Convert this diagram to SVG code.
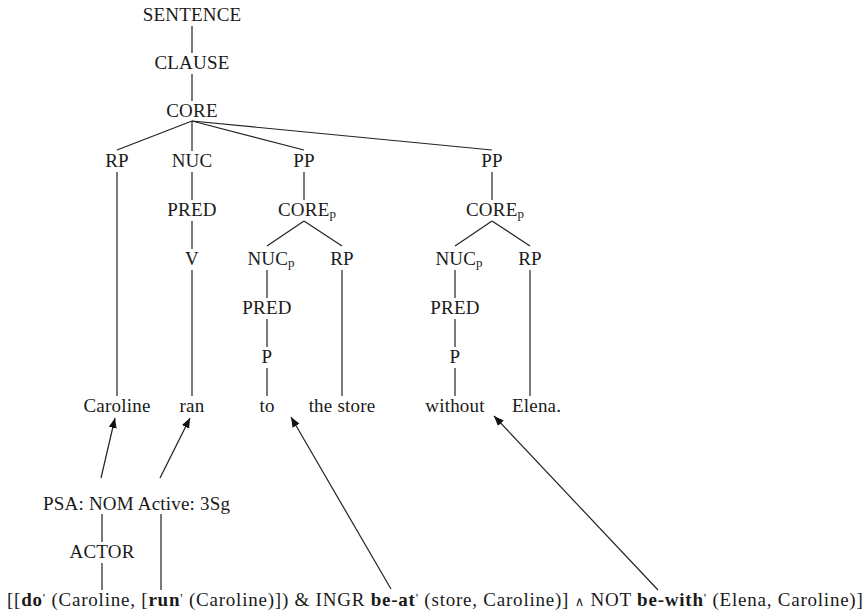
<svg xmlns="http://www.w3.org/2000/svg" width="865" height="615" viewBox="0 0 865 615">
<defs>
<style>
text{font-family:"Liberation Serif","DejaVu Serif",serif;font-size:19px;fill:#1a1a1a;letter-spacing:0.2px}
.m{text-anchor:middle}
.sub{font-size:13px;letter-spacing:0}
.b{font-weight:bold}
.pr{font-size:13px}
#edges line{stroke:#222;stroke-width:1.2}
#arrows line{stroke:#222;stroke-width:1.2;marker-end:url(#ah)}
</style>
<marker id="ah" viewBox="0 0 10 8" refX="10" refY="4" markerWidth="10" markerHeight="8" markerUnits="userSpaceOnUse" orient="auto">
<path d="M0,0 L10,4 L0,8 Z" fill="#111"/>
</marker>
</defs>
<rect width="865" height="615" fill="#fff"/>
<g id="connectors">
<g id="edges">
<line x1="192" y1="26" x2="192" y2="53"/>
<line x1="192" y1="74" x2="192" y2="101"/>
<line x1="192" y1="121" x2="117" y2="150"/>
<line x1="192" y1="121" x2="192" y2="151"/>
<line x1="192" y1="121" x2="304" y2="150"/>
<line x1="192" y1="121" x2="492" y2="150"/>
<line x1="117" y1="172" x2="117" y2="396"/>
<line x1="192" y1="172" x2="192" y2="200"/>
<line x1="192" y1="221" x2="192" y2="249"/>
<line x1="192" y1="270" x2="192" y2="396"/>
<line x1="304" y1="172" x2="304" y2="200"/>
<line x1="304" y1="221" x2="267" y2="246"/>
<line x1="304" y1="221" x2="342" y2="246"/>
<line x1="267" y1="270" x2="267" y2="298"/>
<line x1="267" y1="319" x2="267" y2="347"/>
<line x1="267" y1="368" x2="267" y2="396"/>
<line x1="342" y1="270" x2="342" y2="396"/>
<line x1="492" y1="172" x2="492" y2="200"/>
<line x1="492" y1="221" x2="455" y2="246"/>
<line x1="492" y1="221" x2="530" y2="246"/>
<line x1="455" y1="270" x2="455" y2="298"/>
<line x1="455" y1="319" x2="455" y2="347"/>
<line x1="455" y1="368" x2="455" y2="396"/>
<line x1="530" y1="270" x2="530" y2="396"/>
<line x1="102" y1="514" x2="102" y2="542"/>
<line x1="102" y1="563" x2="102" y2="590"/>
<line x1="161" y1="514" x2="161" y2="590"/>
</g>
<g id="arrows">
<line x1="101" y1="478" x2="115" y2="418"/>
<line x1="160" y1="478" x2="190" y2="418"/>
<line x1="391" y1="589" x2="291" y2="417"/>
<line x1="658" y1="590" x2="494" y2="416"/>
</g>
</g>
<g id="n-sentence"><text class="m" x="192" y="21">SENTENCE</text></g>
<g id="n-clause"><text class="m" x="192" y="69">CLAUSE</text></g>
<g id="n-core"><text class="m" x="192" y="117">CORE</text></g>
<g id="n-rp"><text class="m" x="117" y="167">RP</text></g>
<g id="n-nuc"><text class="m" x="192" y="167">NUC</text></g>
<g id="n-pp1"><text class="m" x="304" y="167">PP</text></g>
<g id="n-pp2"><text class="m" x="492" y="167">PP</text></g>
<g id="n-pred1"><text class="m" x="192" y="216">PRED</text></g>
<g id="n-corep1"><text class="m" x="307" y="216">CORE<tspan class="sub" dy="2">p</tspan></text></g>
<g id="n-corep2"><text class="m" x="495" y="216">CORE<tspan class="sub" dy="2">p</tspan></text></g>
<g id="n-v"><text class="m" x="192" y="265">V</text></g>
<g id="n-nucp1"><text class="m" x="271" y="265">NUC<tspan class="sub" dy="2">p</tspan></text></g>
<g id="n-rp1"><text class="m" x="342" y="265">RP</text></g>
<g id="n-nucp2"><text class="m" x="459" y="265">NUC<tspan class="sub" dy="2">p</tspan></text></g>
<g id="n-rp2"><text class="m" x="530" y="265">RP</text></g>
<g id="n-pred2"><text class="m" x="267" y="314">PRED</text></g>
<g id="n-pred3"><text class="m" x="455" y="314">PRED</text></g>
<g id="n-p1"><text class="m" x="267" y="363">P</text></g>
<g id="n-p2"><text class="m" x="455" y="363">P</text></g>
<g id="n-caroline"><text class="m" x="117" y="412">Caroline</text></g>
<g id="n-ran"><text class="m" x="192" y="412">ran</text></g>
<g id="n-to"><text class="m" x="267" y="412">to</text></g>
<g id="n-store"><text class="m" x="342" y="412">the store</text></g>
<g id="n-without"><text class="m" x="455" y="412">without</text></g>
<g id="n-elena"><text x="512" y="412">Elena.</text></g>
<g id="n-psa"><text x="43" y="510">PSA: NOM Active: 3Sg</text></g>
<g id="n-actor"><text class="m" x="102" y="558">ACTOR</text></g>
<g id="n-lsr"><text x="7" y="606" textLength="856" lengthAdjust="spacing">[[<tspan class="b">do</tspan><tspan class="pr" dy="-4">'</tspan><tspan dy="4"> (Caroline, [</tspan><tspan class="b">run</tspan><tspan class="pr" dy="-4">'</tspan><tspan dy="4"> (Caroline)]) &amp; INGR </tspan><tspan class="b">be-at</tspan><tspan class="pr" dy="-4">'</tspan><tspan dy="4"> (store, Caroline)] </tspan><tspan font-size="13">∧</tspan><tspan> NOT </tspan><tspan class="b">be-with</tspan><tspan class="pr" dy="-4">'</tspan><tspan dy="4"> (Elena, Caroline)]</tspan></text></g>
</svg>
